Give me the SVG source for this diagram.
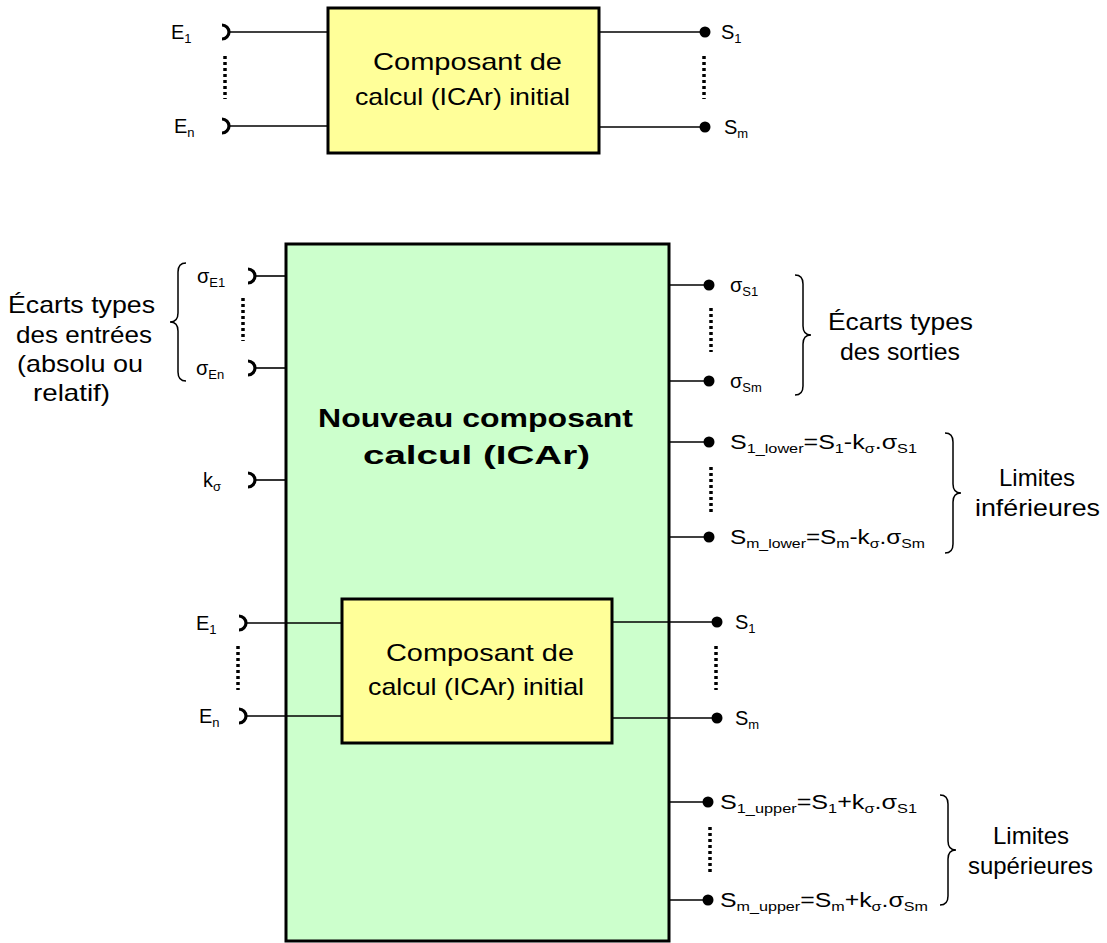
<svg xmlns="http://www.w3.org/2000/svg" width="1107" height="943" viewBox="0 0 1107 943">
<style>
text{font-family:"Liberation Sans",Arial,sans-serif;fill:#000}
.lbl{font-size:20px}
.sub{font-size:13px}
.big{font-size:24px}
.bold{font-size:26px;font-weight:bold}
.box{stroke:#000;stroke-width:3}
.ln{stroke:#000;stroke-width:1.6;fill:none}
.dot{stroke:#000;stroke-width:3.5;stroke-dasharray:3 3;fill:none}
.sock{stroke:#000;stroke-width:3.2;fill:none}
.br{stroke:#000;stroke-width:1.5;fill:none}
</style>
<defs>
<path id="s" class="sock" d="M-6,-7 A7,7 0 0 1 -6,7"/>
</defs>
<g id="initial-top">
<rect class="box" x="328" y="8" width="271" height="145" fill="#ffff99"/>
<text class="big" x="373" y="70" textLength="189" lengthAdjust="spacingAndGlyphs">Composant de</text>
<text class="big" x="355" y="105" textLength="215" lengthAdjust="spacingAndGlyphs">calcul (ICAr) initial</text>
</g>
<g id="new-component">
<rect class="box" x="286" y="244" width="383" height="697" fill="#ccffcc"/>
<text class="bold" x="318" y="427" textLength="315" lengthAdjust="spacingAndGlyphs">Nouveau composant</text>
<text class="bold" x="363" y="464" textLength="227" lengthAdjust="spacingAndGlyphs">calcul (ICAr)</text>
</g>
<g id="initial-inner">
<rect class="box" x="342" y="599" width="270" height="144" fill="#ffff99"/>
<text class="big" x="386" y="661" textLength="188" lengthAdjust="spacingAndGlyphs">Composant de</text>
<text class="big" x="368" y="695" textLength="216" lengthAdjust="spacingAndGlyphs">calcul (ICAr) initial</text>
</g>
<g id="connectors">
<line class="ln" x1="228" y1="32" x2="328" y2="32"/>
<line class="ln" x1="228" y1="126" x2="328" y2="126"/>
<line class="ln" x1="599" y1="32" x2="705" y2="32"/>
<line class="ln" x1="599" y1="127" x2="705" y2="127"/>
<line class="ln" x1="254" y1="276" x2="286" y2="276"/>
<line class="ln" x1="254" y1="368" x2="286" y2="368"/>
<line class="ln" x1="254" y1="480" x2="286" y2="480"/>
<line class="ln" x1="245" y1="623" x2="342" y2="623"/>
<line class="ln" x1="245" y1="716" x2="342" y2="716"/>
<line class="ln" x1="612" y1="622" x2="717" y2="622"/>
<line class="ln" x1="612" y1="718" x2="717" y2="718"/>
<line class="ln" x1="669" y1="285" x2="709" y2="285"/>
<line class="ln" x1="669" y1="381" x2="709" y2="381"/>
<line class="ln" x1="669" y1="442" x2="709" y2="442"/>
<line class="ln" x1="669" y1="537" x2="709" y2="537"/>
<line class="ln" x1="669" y1="802" x2="708" y2="802"/>
<line class="ln" x1="669" y1="900" x2="708" y2="900"/>
</g>
<g id="ports">
<use href="#s" x="228" y="32"/>
<use href="#s" x="228" y="126"/>
<use href="#s" x="254" y="276"/>
<use href="#s" x="254" y="368"/>
<use href="#s" x="254" y="480"/>
<use href="#s" x="245" y="623"/>
<use href="#s" x="245" y="716"/>
<circle cx="705" cy="32" r="5.5"/>
<circle cx="705" cy="127" r="5.5"/>
<circle cx="717" cy="622" r="5.5"/>
<circle cx="717" cy="718" r="5.5"/>
<circle cx="709" cy="285" r="5.5"/>
<circle cx="709" cy="381" r="5.5"/>
<circle cx="709" cy="442" r="5.5"/>
<circle cx="709" cy="537" r="5.5"/>
<circle cx="708" cy="802" r="5.5"/>
<circle cx="708" cy="900" r="5.5"/>
<line class="dot" x1="225" y1="56" x2="225" y2="99"/>
<line class="dot" x1="704" y1="56" x2="704" y2="99"/>
<line class="dot" x1="243" y1="298" x2="243" y2="341"/>
<line class="dot" x1="238" y1="646" x2="238" y2="690"/>
<line class="dot" x1="716" y1="646" x2="716" y2="690"/>
<line class="dot" x1="711" y1="308" x2="711" y2="352"/>
<line class="dot" x1="711" y1="467" x2="711" y2="512"/>
<line class="dot" x1="710" y1="827" x2="710" y2="872"/>
</g>
<g id="labels">
<text class="lbl" x="171" y="39">E<tspan class="sub" dy="4">1</tspan></text>
<text class="lbl" x="174" y="133">E<tspan class="sub" dy="4">n</tspan></text>
<text class="lbl" x="721" y="39">S<tspan class="sub" dy="4">1</tspan></text>
<text class="lbl" x="724" y="134">S<tspan class="sub" dy="4">m</tspan></text>
<text class="lbl" x="197" y="283">σ<tspan class="sub" dy="4">E1</tspan></text>
<text class="lbl" x="196" y="375">σ<tspan class="sub" dy="4">En</tspan></text>
<text class="lbl" x="203" y="487">k<tspan class="sub" dy="4">σ</tspan></text>
<text class="lbl" x="196" y="630">E<tspan class="sub" dy="4">1</tspan></text>
<text class="lbl" x="199" y="723">E<tspan class="sub" dy="4">n</tspan></text>
<text class="lbl" x="735" y="629">S<tspan class="sub" dy="4">1</tspan></text>
<text class="lbl" x="735" y="725">S<tspan class="sub" dy="4">m</tspan></text>
<text class="lbl" x="730" y="292">σ<tspan class="sub" dy="4">S1</tspan></text>
<text class="lbl" x="730" y="388">σ<tspan class="sub" dy="4">Sm</tspan></text>
<text class="lbl" x="730" y="449" textLength="187" lengthAdjust="spacingAndGlyphs">S<tspan class="sub" dy="4">1_lower</tspan><tspan dy="-4">=S</tspan><tspan class="sub" dy="4">1</tspan><tspan dy="-4">-k</tspan><tspan class="sub" dy="4">σ</tspan><tspan dy="-4">.σ</tspan><tspan class="sub" dy="4">S1</tspan></text>
<text class="lbl" x="730" y="544" textLength="195" lengthAdjust="spacingAndGlyphs">S<tspan class="sub" dy="4">m_lower</tspan><tspan dy="-4">=S</tspan><tspan class="sub" dy="4">m</tspan><tspan dy="-4">-k</tspan><tspan class="sub" dy="4">σ</tspan><tspan dy="-4">.σ</tspan><tspan class="sub" dy="4">Sm</tspan></text>
<text class="lbl" x="720" y="809" textLength="197" lengthAdjust="spacingAndGlyphs">S<tspan class="sub" dy="4">1_upper</tspan><tspan dy="-4">=S</tspan><tspan class="sub" dy="4">1</tspan><tspan dy="-4">+k</tspan><tspan class="sub" dy="4">σ</tspan><tspan dy="-4">.σ</tspan><tspan class="sub" dy="4">S1</tspan></text>
<text class="lbl" x="720" y="907" textLength="208" lengthAdjust="spacingAndGlyphs">S<tspan class="sub" dy="4">m_upper</tspan><tspan dy="-4">=S</tspan><tspan class="sub" dy="4">m</tspan><tspan dy="-4">+k</tspan><tspan class="sub" dy="4">σ</tspan><tspan dy="-4">.σ</tspan><tspan class="sub" dy="4">Sm</tspan></text>
</g>
<g id="groups">
<path class="br" d="M186,263 Q178,263 178,272 L178,313 Q178,322 170,322 Q178,322 178,331 L178,372 Q178,381 186,381"/>
<text class="big" x="8" y="313" textLength="147" lengthAdjust="spacingAndGlyphs">Écarts types</text>
<text class="big" x="16" y="343" textLength="136" lengthAdjust="spacingAndGlyphs">des entrées</text>
<text class="big" x="17" y="372" textLength="126" lengthAdjust="spacingAndGlyphs">(absolu ou</text>
<text class="big" x="33" y="401" textLength="77" lengthAdjust="spacingAndGlyphs">relatif)</text>
<path class="br" d="M795,275 Q803,275 803,284 L803,326 Q803,335 811,335 Q803,335 803,344 L803,386 Q803,395 795,395"/>
<text class="big" x="828" y="330" textLength="145" lengthAdjust="spacingAndGlyphs">Écarts types</text>
<text class="big" x="840" y="360" textLength="120" lengthAdjust="spacingAndGlyphs">des sorties</text>
<path class="br" d="M945,433 Q953,433 953,442 L953,484 Q953,493 961,493 Q953,493 953,502 L953,544 Q953,553 945,553"/>
<text class="big" x="1037" y="486" text-anchor="middle">Limites</text>
<text class="big" x="975" y="516" textLength="125" lengthAdjust="spacingAndGlyphs">inférieures</text>
<path class="br" d="M940,795 Q948,795 948,804 L948,841 Q948,850 956,850 Q948,850 948,859 L948,896 Q948,905 940,905"/>
<text class="big" x="1031" y="844" text-anchor="middle">Limites</text>
<text class="big" x="968" y="874" textLength="125" lengthAdjust="spacingAndGlyphs">supérieures</text>
</g>
</svg>
